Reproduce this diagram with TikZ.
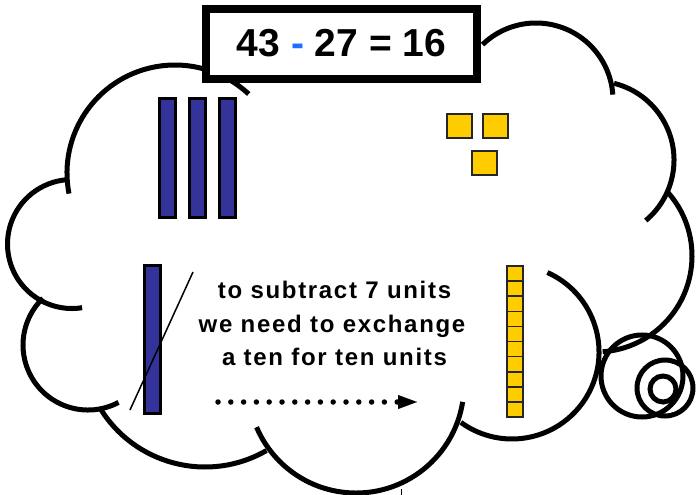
\documentclass[tikz,border=0pt]{standalone}
\usepackage{fontspec}
\setmainfont{Liberation Sans}
\newfontfamily\bodyfont[LetterSpace=7]{Liberation Sans}
\usetikzlibrary{arrows.meta}
\definecolor{rodblue}{RGB}{51,51,153}
\definecolor{unityellow}{RGB}{255,204,0}
\definecolor{minusblue}{RGB}{30,110,255}
\begin{document}
\begin{tikzpicture}[x=1pt,y=-1pt,
 cloudline/.style={line width=5pt},
 titlebox/.style={draw,line width=8pt,fill=white,minimum width=271pt,minimum height=70pt,inner sep=0pt},
 tenrod/.style={draw,line width=3pt,fill=rodblue,minimum width=16pt,minimum height=119pt,inner sep=0pt},
 unitsq/.style={draw=black!85,line width=2pt,fill=unityellow,minimum width=25pt,minimum height=24pt,inner sep=0pt},
 unitcell/.style={draw=black!85,line width=1.6pt,fill=unityellow,minimum width=16pt,minimum height=15.1pt,inner sep=0pt},
 bodytext/.style={font=\bodyfont\fontsize{24}{24}\selectfont\bfseries,inner sep=0pt,anchor=base},
]
\useasboundingbox (0,0) rectangle (699,495);
% cloud bumps
\coordinate (c1) at (175,173);
\coordinate (c2) at (536,100);
\coordinate (c3) at (595,160);
\coordinate (c4) at (596,256);
\coordinate (c5) at (512,352);
\coordinate (c6) at (356,385);
\coordinate (c7) at (205,344);
\coordinate (c8) at (88,345);
\coordinate (c9) at (72,244);
\draw[cloudline] ([shift={(169:108)}]c1) arc[start angle=169,end angle=313,radius=108];
\draw[cloudline] ([shift={(226:77)}]c2) arc[start angle=226,end angle=356,radius=77];
\draw[cloudline] ([shift={(284:79)}]c3) arc[start angle=284,end angle=410,radius=79];
\draw[cloudline] ([shift={(318:96)}]c4) arc[start angle=318,end angle=446,radius=96];
\draw[cloudline] ([shift={(294:87)}]c5) arc[start angle=294,end angle=486,radius=87];
\draw[cloudline] ([shift={(9:108)}]c6) arc[start angle=9,end angle=157,radius=108];
\draw[cloudline] ([shift={(60:123)}]c7) arc[start angle=60,end angle=149,radius=123];
\draw[cloudline] ([shift={(62:65)}]c8) arc[start angle=62,end angle=226,radius=65];
\draw[cloudline] ([shift={(81:64.5)}]c9) arc[start angle=81,end angle=266,radius=64.5];
% thought circles
\draw[cloudline] (642,376) circle[radius=41];
\draw[cloudline] (665,388) circle[radius=28];
\draw[cloudline] (663,389) circle[radius=13];
% title
\node[titlebox] (eq) at (341.5,44) {\raisebox{3pt}{\fontsize{39}{39}\selectfont\bfseries 43 \textcolor{minusblue}{-} 27 = 16}};
% tens
\node[tenrod] (r1) at (167.5,158) {};
\node[tenrod] (r2) at (197.5,158) {};
\node[tenrod] (r3) at (227.5,158) {};
\node[tenrod,minimum height=148pt] (r4) at (152.5,339.5) {};
% units
\node[unitsq] (u1) at (459.5,125.5) {};
\node[unitsq] (u2) at (495.5,125.5) {};
\node[unitsq] (u3) at (484,162.5) {};
\foreach \i in {0,...,9} {
  \node[unitcell] (cell\i) at (515,{266+15.1*(\i+0.5)}) {};
}
% crossing line
\coordinate (d1) at (193,272);
\coordinate (d2) at (130,410);
\draw[line width=1.5pt] (d1) -- (d2);
% text
\node[bodytext] (t1) at (334.5,298) {to subtract 7 units};
\node[bodytext] (t2) at (332,332) {we need to exchange};
\node[bodytext] (t3) at (334.5,365) {a ten for ten units};
% dotted arrow
\coordinate (ds) at (218,402);
\coordinate (de) at (417,402);
\draw[line width=5.5pt,line cap=round,dash pattern=on 0pt off 12.8pt,-{Triangle[length=19pt,width=14pt,line width=0.1pt]}] (ds) -- (de);
% bottom tick
\coordinate (k1) at (401,489);
\coordinate (k2) at (401,495);
\draw[line width=1pt] (k1) -- (k2);
\end{tikzpicture}
\end{document}
